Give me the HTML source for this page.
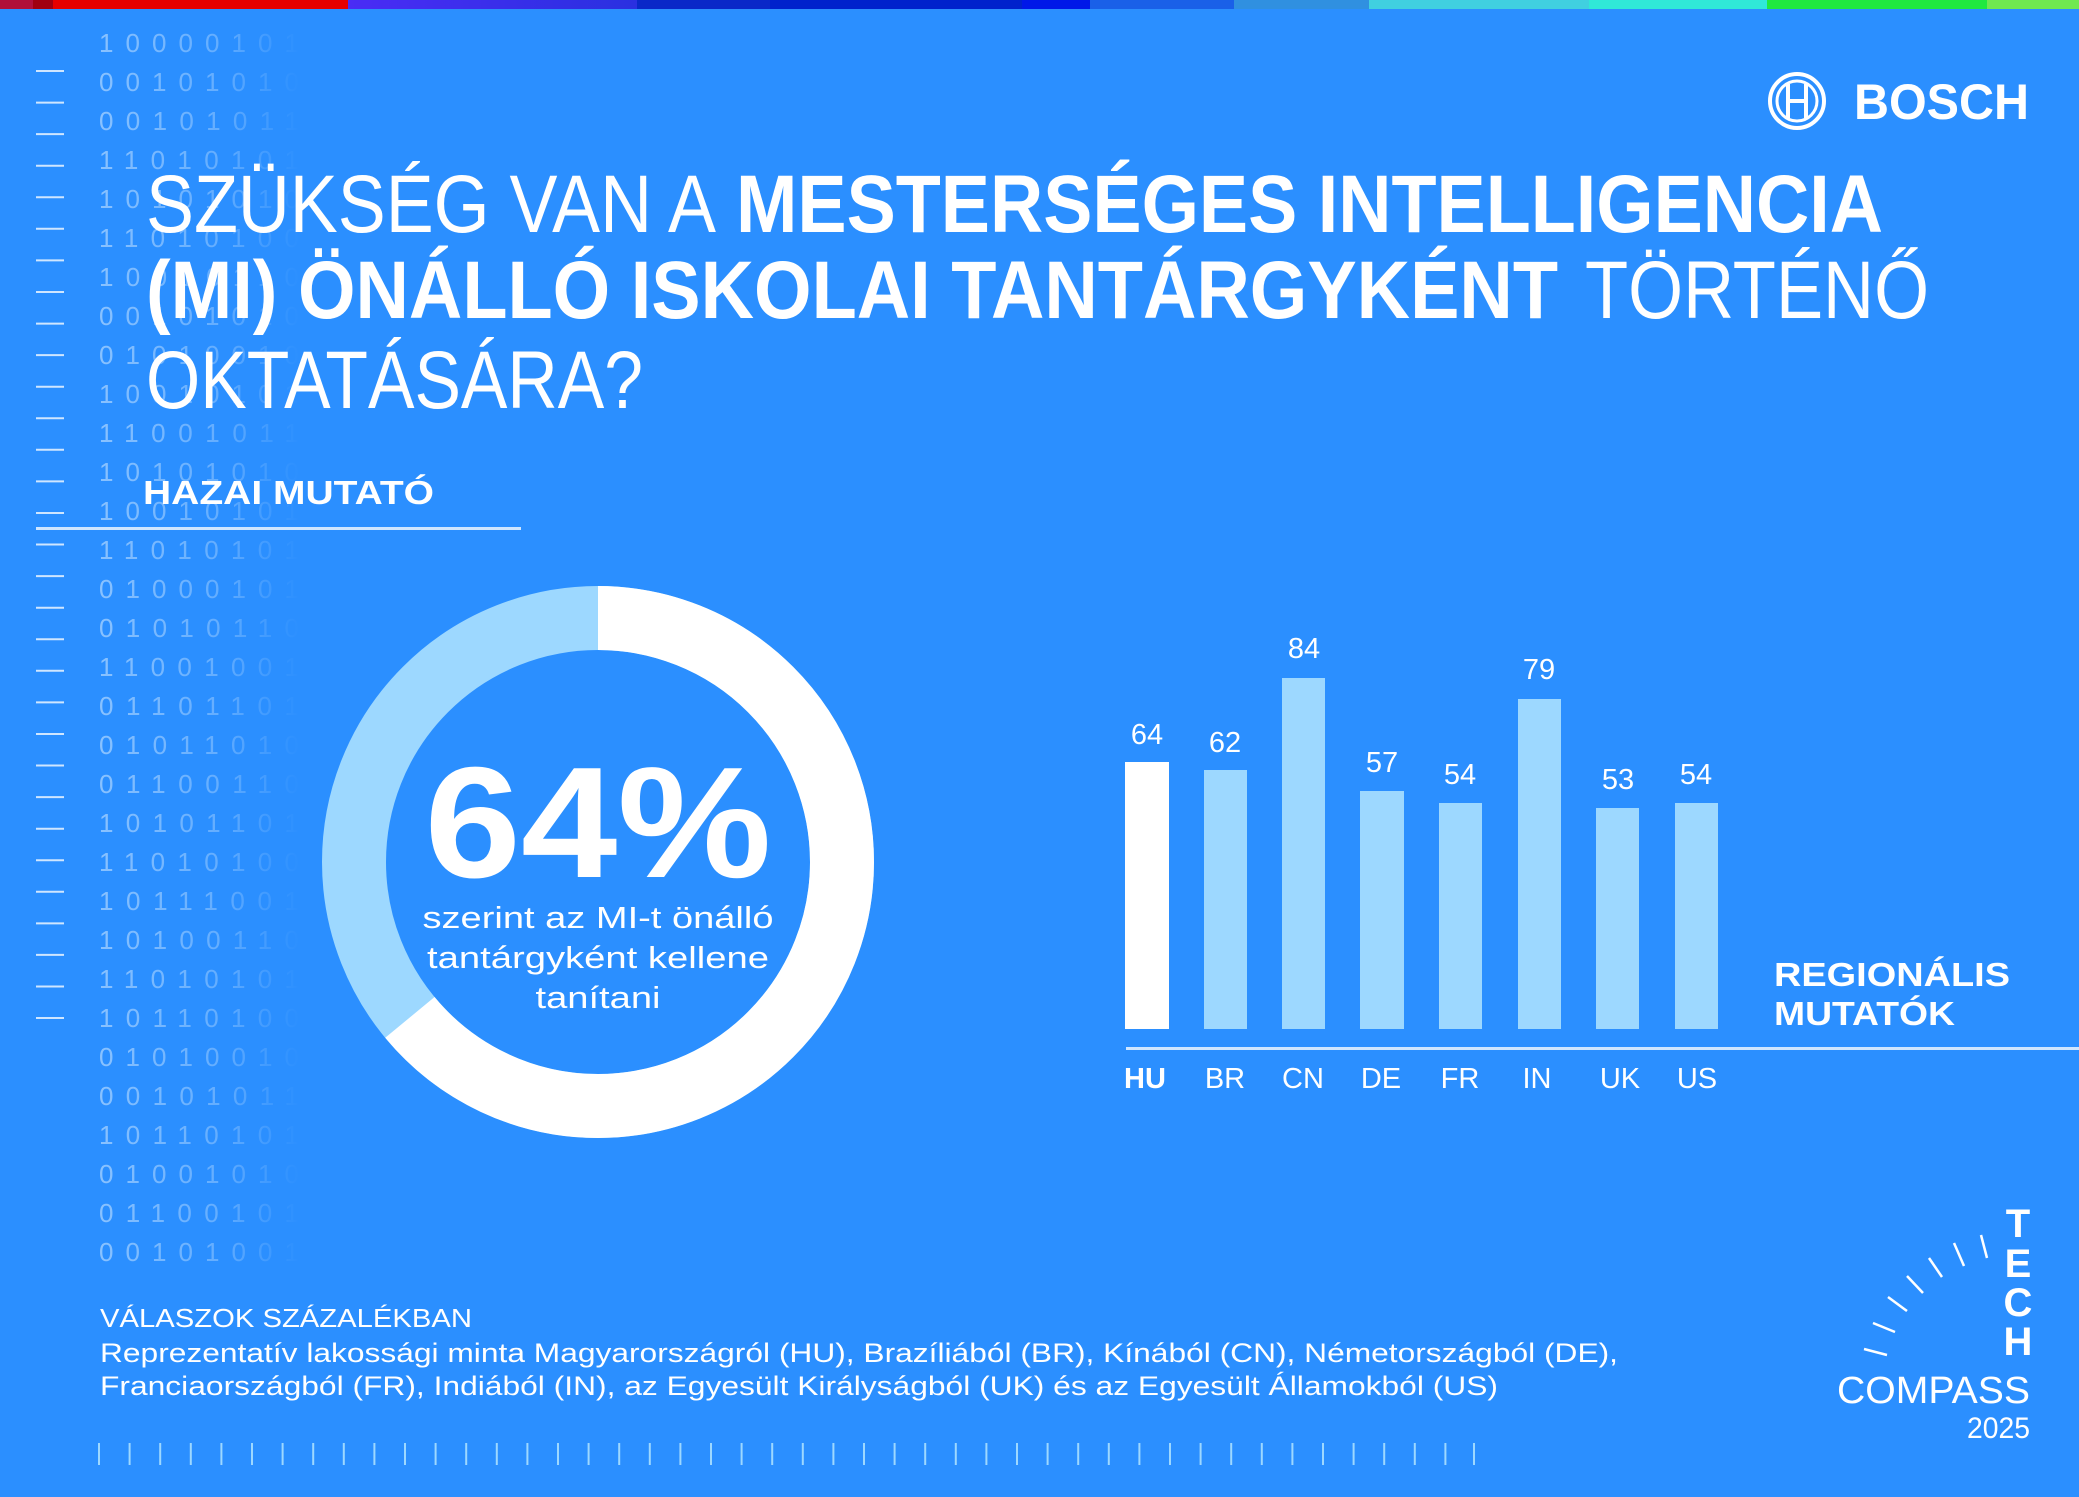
<!DOCTYPE html>
<html><head><meta charset="utf-8"><style>
html,body{margin:0;padding:0;background:#2b8fff;}
svg{display:block;}
text{font-family:"Liberation Sans",sans-serif;fill:#fff;}
</style></head><body>
<svg width="2079" height="1497" viewBox="0 0 2079 1497" xmlns="http://www.w3.org/2000/svg">
<defs>
<linearGradient id="fade" x1="0" x2="1" y1="0" y2="0">
<stop offset="0" stop-color="#a9d3ff" stop-opacity="0.75"/>
<stop offset="0.6" stop-color="#a9d3ff" stop-opacity="0.45"/>
<stop offset="1" stop-color="#a9d3ff" stop-opacity="0"/>
</linearGradient>
<linearGradient id="pg" x1="0" x2="1"><stop offset="0" stop-color="#4a2cf5"/><stop offset="1" stop-color="#2a30e0"/></linearGradient>
</defs>
<rect width="2079" height="1497" fill="#2b8fff"/>
<rect x="0" y="0" width="33" height="9" fill="#b0103a"/>
<rect x="33" y="0" width="20" height="9" fill="#a00010"/>
<rect x="53" y="0" width="295" height="9" fill="#e60000"/>
<rect x="348" y="0" width="289" height="9" fill="url(#pg)"/>
<rect x="637" y="0" width="133" height="9" fill="#0a28c8"/>
<rect x="770" y="0" width="252" height="9" fill="#0022cc"/>
<rect x="1022" y="0" width="68" height="9" fill="#0018e8"/>
<rect x="1090" y="0" width="144" height="9" fill="#1a60e8"/>
<rect x="1234" y="0" width="135" height="9" fill="#3090e0"/>
<rect x="1369" y="0" width="220" height="9" fill="#40d0e0"/>
<rect x="1589" y="0" width="178" height="9" fill="#30e8d8"/>
<rect x="1767" y="0" width="220" height="9" fill="#20e840"/>
<rect x="1987" y="0" width="92" height="9" fill="#70e850"/>

<g font-family="Liberation Mono,monospace" font-size="26">
<text x="99" y="52" style="fill:url(#fade)" textLength="200">10000101</text>
<text x="99" y="91" style="fill:url(#fade)" textLength="200">00101010</text>
<text x="99" y="130" style="fill:url(#fade)" textLength="200">00101011</text>
<text x="99" y="169" style="fill:url(#fade)" textLength="200">11010101</text>
<text x="99" y="208" style="fill:url(#fade)" textLength="200">10101010</text>
<text x="99" y="247" style="fill:url(#fade)" textLength="200">11010100</text>
<text x="99" y="286" style="fill:url(#fade)" textLength="200">10010110</text>
<text x="99" y="325" style="fill:url(#fade)" textLength="200">00101010</text>
<text x="99" y="364" style="fill:url(#fade)" textLength="200">01010010</text>
<text x="99" y="403" style="fill:url(#fade)" textLength="200">10010101</text>
<text x="99" y="442" style="fill:url(#fade)" textLength="200">11001011</text>
<text x="99" y="481" style="fill:url(#fade)" textLength="200">10101010</text>
<text x="99" y="520" style="fill:url(#fade)" textLength="200">10010101</text>
<text x="99" y="559" style="fill:url(#fade)" textLength="200">11010101</text>
<text x="99" y="598" style="fill:url(#fade)" textLength="200">01000101</text>
<text x="99" y="637" style="fill:url(#fade)" textLength="200">01010110</text>
<text x="99" y="676" style="fill:url(#fade)" textLength="200">11001001</text>
<text x="99" y="715" style="fill:url(#fade)" textLength="200">01101101</text>
<text x="99" y="754" style="fill:url(#fade)" textLength="200">01011010</text>
<text x="99" y="793" style="fill:url(#fade)" textLength="200">01100110</text>
<text x="99" y="832" style="fill:url(#fade)" textLength="200">10101101</text>
<text x="99" y="871" style="fill:url(#fade)" textLength="200">11010100</text>
<text x="99" y="910" style="fill:url(#fade)" textLength="200">10111001</text>
<text x="99" y="949" style="fill:url(#fade)" textLength="200">10100110</text>
<text x="99" y="988" style="fill:url(#fade)" textLength="200">11010101</text>
<text x="99" y="1027" style="fill:url(#fade)" textLength="200">10110100</text>
<text x="99" y="1066" style="fill:url(#fade)" textLength="200">01010010</text>
<text x="99" y="1105" style="fill:url(#fade)" textLength="200">00101011</text>
<text x="99" y="1144" style="fill:url(#fade)" textLength="200">10110101</text>
<text x="99" y="1183" style="fill:url(#fade)" textLength="200">01001010</text>
<text x="99" y="1222" style="fill:url(#fade)" textLength="200">01100101</text>
<text x="99" y="1261" style="fill:url(#fade)" textLength="200">00101001</text>
</g>
<path stroke="#cfe6ff" stroke-width="2" d="M36 71H64M36 102.6H64M36 134.1H64M36 165.7H64M36 197.3H64M36 228.8H64M36 260.4H64M36 292H64M36 323.6H64M36 355.1H64M36 386.7H64M36 418.3H64M36 449.8H64M36 481.4H64M36 513H64M36 544.5H64M36 576.1H64M36 607.7H64M36 639.2H64M36 670.8H64M36 702.4H64M36 734H64M36 765.5H64M36 797.1H64M36 828.7H64M36 860.2H64M36 891.8H64M36 923.4H64M36 954.9H64M36 986.5H64M36 1018H64"/>

<circle cx="1797" cy="101" r="27" fill="none" stroke="#fff" stroke-width="4"/>
<circle cx="1797" cy="101" r="20" fill="none" stroke="#fff" stroke-width="3"/>
<path d="M1788 84V118M1806 84V118M1788 101H1806" stroke="#fff" stroke-width="4" fill="none"/>
<text x="1854" y="119" font-size="50" font-weight="bold" textLength="175" lengthAdjust="spacingAndGlyphs">BOSCH</text>

<text x="146" y="232" font-size="82" textLength="570" lengthAdjust="spacingAndGlyphs">SZÜKSÉG VAN A</text>
<text x="736" y="232" font-size="82" font-weight="bold" textLength="1147" lengthAdjust="spacingAndGlyphs">MESTERSÉGES INTELLIGENCIA</text>
<text x="146" y="318" font-size="82" font-weight="bold" textLength="1412" lengthAdjust="spacingAndGlyphs">(MI) ÖNÁLLÓ ISKOLAI TANTÁRGYKÉNT</text>
<text x="1585" y="318" font-size="82" textLength="344" lengthAdjust="spacingAndGlyphs">TÖRTÉNŐ</text>
<text x="146" y="408" font-size="82" textLength="497" lengthAdjust="spacingAndGlyphs">OKTATÁSÁRA?</text>

<text x="143" y="504" font-size="33" font-weight="bold" textLength="291" lengthAdjust="spacingAndGlyphs">HAZAI MUTATÓ</text>
<rect x="36" y="527" width="485" height="3" fill="#cfe6ff"/>

<circle cx="598" cy="862" r="244" fill="none" stroke="#9dd8ff" stroke-width="64"/>
<circle cx="598" cy="862" r="244" fill="none" stroke="#fff" stroke-width="64" stroke-dasharray="981.2 2000" transform="rotate(-90 598 862)"/>
<text x="598" y="877" font-size="158" font-weight="bold" text-anchor="middle" textLength="347" lengthAdjust="spacingAndGlyphs">64%</text>
<text x="598" y="928" font-size="31" text-anchor="middle" textLength="351" lengthAdjust="spacingAndGlyphs">szerint az MI-t önálló</text>
<text x="598" y="968" font-size="31" text-anchor="middle" textLength="342" lengthAdjust="spacingAndGlyphs">tantárgyként kellene</text>
<text x="598" y="1008" font-size="31" text-anchor="middle" textLength="125" lengthAdjust="spacingAndGlyphs">tanítani</text>

<g fill="#9dd8ff">
<rect x="1125" y="762" width="44" height="267" fill="#fff"/>
<rect x="1204" y="770" width="43" height="259"/>
<rect x="1282" y="678" width="43" height="351"/>
<rect x="1360" y="791" width="44" height="238"/>
<rect x="1439" y="803" width="43" height="226"/>
<rect x="1518" y="699" width="43" height="330"/>
<rect x="1596" y="808" width="43" height="221"/>
<rect x="1675" y="803" width="43" height="226"/>
</g>
<g font-size="29" text-anchor="middle">
<text x="1147" y="744">64</text>
<text x="1225" y="752">62</text>
<text x="1304" y="658">84</text>
<text x="1382" y="772">57</text>
<text x="1460" y="784">54</text>
<text x="1539" y="679">79</text>
<text x="1618" y="789">53</text>
<text x="1696" y="784">54</text>
</g>
<rect x="1126" y="1047" width="953" height="3" fill="#cfe6ff"/>
<g font-size="29" text-anchor="middle">
<text x="1145" y="1088" font-weight="bold">HU</text>
<text x="1225" y="1088">BR</text>
<text x="1303" y="1088">CN</text>
<text x="1381" y="1088">DE</text>
<text x="1460" y="1088">FR</text>
<text x="1537" y="1088">IN</text>
<text x="1620" y="1088">UK</text>
<text x="1697" y="1088">US</text>
</g>
<text x="1774" y="986" font-size="33" font-weight="bold" textLength="236" lengthAdjust="spacingAndGlyphs">REGIONÁLIS</text>
<text x="1774" y="1025" font-size="33" font-weight="bold" textLength="181" lengthAdjust="spacingAndGlyphs">MUTATÓK</text>

<text x="100" y="1327" font-size="26" textLength="372" lengthAdjust="spacingAndGlyphs">VÁLASZOK SZÁZALÉKBAN</text>
<text x="100" y="1362" font-size="27" textLength="1518" lengthAdjust="spacingAndGlyphs">Reprezentatív lakossági minta Magyarországról (HU), Brazíliából (BR), Kínából (CN), Németországból (DE),</text>
<text x="100" y="1395" font-size="27" textLength="1398" lengthAdjust="spacingAndGlyphs">Franciaországból (FR), Indiából (IN), az Egyesült Királyságból (UK) és az Egyesült Államokból (US)</text>
<path stroke="#9dd8ff" stroke-width="2" d="M99 1443V1465M129.6 1443V1465M160.2 1443V1465M190.8 1443V1465M221.4 1443V1465M252 1443V1465M282.6 1443V1465M313.2 1443V1465M343.8 1443V1465M374.4 1443V1465M405 1443V1465M435.6 1443V1465M466.2 1443V1465M496.8 1443V1465M527.4 1443V1465M558 1443V1465M588.6 1443V1465M619.2 1443V1465M649.8 1443V1465M680.4 1443V1465M711 1443V1465M741.6 1443V1465M772.2 1443V1465M802.8 1443V1465M833.4 1443V1465M864 1443V1465M894.6 1443V1465M925.2 1443V1465M955.8 1443V1465M986.4 1443V1465M1017 1443V1465M1047.6 1443V1465M1078.2 1443V1465M1108.8 1443V1465M1139.4 1443V1465M1170 1443V1465M1200.6 1443V1465M1231.2 1443V1465M1261.8 1443V1465M1292.4 1443V1465M1323 1443V1465M1353.6 1443V1465M1384.2 1443V1465M1414.8 1443V1465M1445.4 1443V1465M1474 1443V1465"/>

<g stroke="#fff" stroke-width="2.5">
<line x1="1864" y1="1349" x2="1887" y2="1355"/>
<line x1="1873" y1="1323" x2="1895" y2="1332"/>
<line x1="1888" y1="1297" x2="1907" y2="1311"/>
<line x1="1907" y1="1276" x2="1923" y2="1293"/>
<line x1="1929" y1="1258" x2="1942" y2="1277"/>
<line x1="1954" y1="1243" x2="1964" y2="1266"/>
<line x1="1981" y1="1235" x2="1987" y2="1258"/>
</g>
<g font-size="40" font-weight="bold" text-anchor="middle">
<text x="2018" y="1237">T</text>
<text x="2018" y="1277">E</text>
<text x="2018" y="1316">C</text>
<text x="2018" y="1355">H</text>
</g>
<text x="1837" y="1403" font-size="38" textLength="193" lengthAdjust="spacingAndGlyphs">COMPASS</text>
<text x="1967" y="1438" font-size="30" textLength="63" lengthAdjust="spacingAndGlyphs">2025</text>
</svg>
</body></html>
